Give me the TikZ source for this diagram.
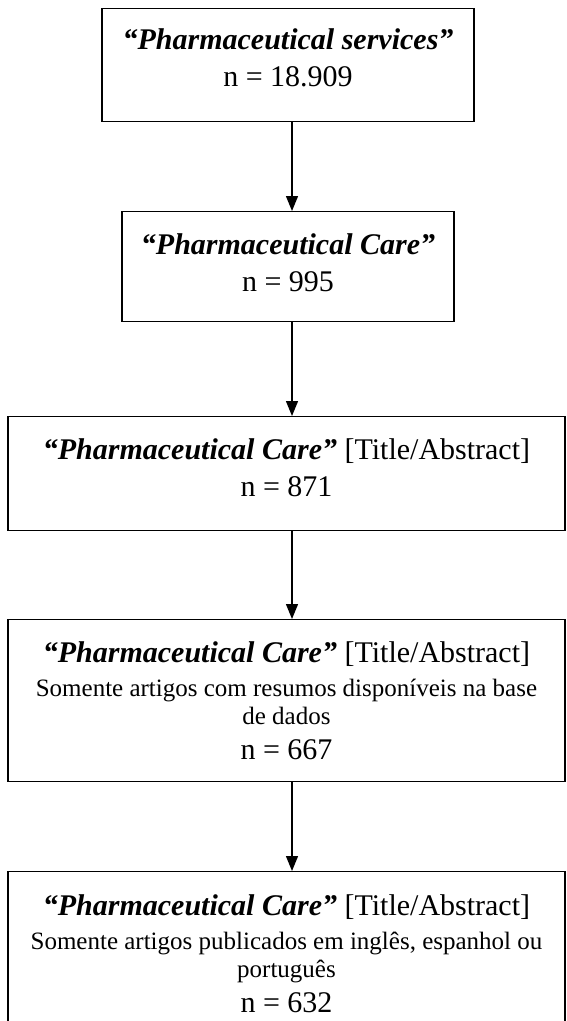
\documentclass[tikz,border=0pt]{standalone}
\usepackage{fontspec}
\setmainfont{Liberation Serif}
\usetikzlibrary{arrows.meta}

\tikzset{
  box/.style={draw, line width=1.3pt, rectangle, anchor=north, inner sep=0pt},
  txt/.style={anchor=north, align=center, inner sep=0pt, font=\fontsize{30}{37}\selectfont},
  arr/.style={line width=1.3pt, -{Triangle[width=12pt,length=15pt]}}
}
\newcommand{\ttl}[1]{\textbf{\textit{#1}}}
\newcommand{\sml}{\fontsize{25}{29}\selectfont}

\begin{document}
\begin{tikzpicture}[x=1pt,y=1pt]
  \clip (0,0) rectangle (567,-1021);

  % Boxes
  \node[box, minimum width=372pt, minimum height=113pt] (b1) at (288,-8) {};
  \node[box, minimum width=332pt, minimum height=110pt] (b2) at (288,-211) {};
  \node[box, minimum width=557pt, minimum height=114pt] (b3) at (286.5,-416) {};
  \node[box, minimum width=557pt, minimum height=162pt] (b4) at (286.5,-619) {};
  \node[box, minimum width=557pt, minimum height=180pt] (b5) at (286.5,-871) {};

  % Texts
  \node[txt] (t1) at ([yshift=-20pt]b1.north) {\ttl{“Pharmaceutical services”}\\ n = 18.909};
  \node[txt] (t2) at ([yshift=-22pt]b2.north) {\ttl{“Pharmaceutical Care”}\\ n = 995};
  \node[txt] (t3) at ([yshift=-22pt]b3.north) {\ttl{“Pharmaceutical Care”} [Title/Abstract]\\ n = 871};
  \node[txt] (t4) at ([yshift=-22pt]b4.north) {\ttl{“Pharmaceutical Care”} [Title/Abstract]\\[-3pt]
    {\sml Somente artigos com resumos disponíveis na base}\\[-9pt]
    {\sml de dados}\\[-2pt] n = 667};
  \node[txt] (t5) at ([yshift=-23pt]b5.north) {\ttl{“Pharmaceutical Care”} [Title/Abstract]\\[-3pt]
    {\sml Somente artigos publicados em inglês, espanhol ou}\\[-9pt]
    {\sml português}\\[-2pt] n = 632};

  % Arrows
  \draw[arr] ([xshift=4pt]b1.south) -- ([xshift=4pt]b2.north);
  \draw[arr] ([xshift=4pt]b2.south) -- ([xshift=5.5pt]b3.north);
  \draw[arr] ([xshift=5.5pt]b3.south) -- ([xshift=5.5pt]b4.north);
  \draw[arr] ([xshift=5.5pt]b4.south) -- ([xshift=5.5pt]b5.north);
\end{tikzpicture}
\end{document}
